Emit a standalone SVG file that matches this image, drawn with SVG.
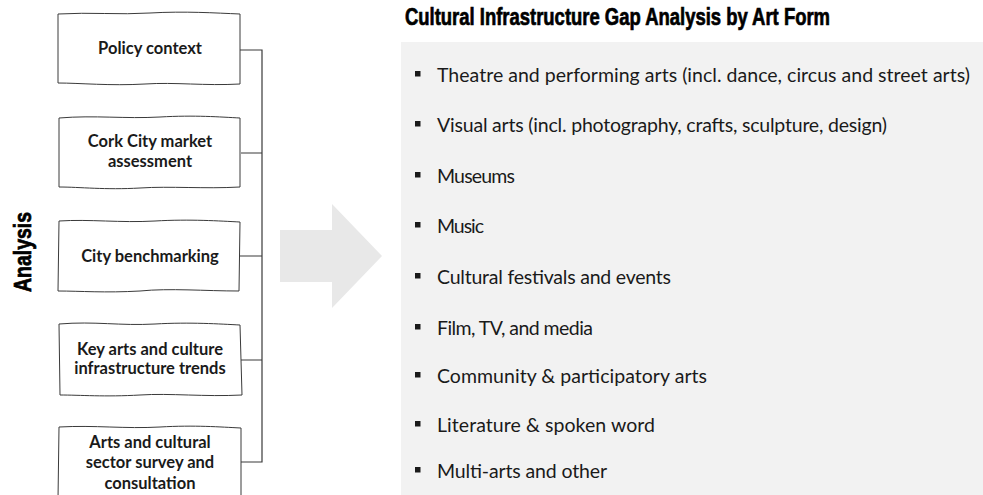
<svg xmlns="http://www.w3.org/2000/svg" width="983" height="495" viewBox="0 0 983 495">
<style>
.box{fill:#ffffff;stroke:#3a3a3a;stroke-width:1}
.bt{font-family:Lato,'Open Sans',sans-serif;font-weight:bold;font-size:16.5px;fill:#1a1a1a;text-anchor:middle}
.li{font-family:Lato,'Open Sans',sans-serif;font-size:19.5px;fill:#1a1a1a}
.bul{fill:#1a1a1a}
.hd{font-family:'Liberation Sans Narrow','Liberation Sans',sans-serif;font-weight:bold;fill:#000;stroke:#000;stroke-width:0.7}
.conn{fill:none;stroke:#3a3a3a;stroke-width:1.2}
</style>
<rect id="panel" x="401" y="42" width="582" height="453" fill="#f2f2f2"/>
<polygon id="arrow" points="280,230 332,230 332,204 382,256 332,308 332,282 280,282" fill="#e8e8e8"/>
<text class="hd" x="405" y="25" font-size="23.5" textLength="425" lengthAdjust="spacingAndGlyphs">Cultural Infrastructure Gap Analysis by Art Form</text>
<text class="hd" transform="translate(31,252) rotate(-90)" text-anchor="middle" font-size="23" textLength="80" lengthAdjust="spacingAndGlyphs">Analysis</text>
<g id="connectors">
<path class="conn" d="M240,50 H262 M241,153 H262 M240,256 H262 M241,360 H262 M241,462 H262 M262,49.4 V462.6"/>
</g>
<g id="n1">
<path class="box" d="M58,14 C90,12 120,15 150,13 C185,11 215,13 240,14 L240,84 C205,86 175,82 145,84 C110,86 80,83 58,83 Z"/>
<text class="bt" x="150" y="54">Policy context</text>
</g>
<g id="n2">
<path class="box" d="M59,118 C95,115 125,119 160,117 C195,115 220,117 240,118 L240,187 C205,189 170,186 140,188 C105,190 80,187 59,187 Z"/>
<text class="bt" x="150" y="147">Cork City market</text>
<text class="bt" x="150" y="167">assessment</text>
</g>
<g id="n3">
<path class="box" d="M59,221 C90,219 120,223 155,221 C190,219 220,221 240,222 L239,291 C205,291 170,288 140,291 C105,293 80,291 58,291 Z"/>
<text class="bt" x="150" y="262">City benchmarking</text>
</g>
<g id="n4">
<path class="box" d="M59,324 C95,321 120,326 155,324 C190,322 220,324 240,325 L242,395 C205,397 170,393 140,395 C105,397 80,395 60,395 Z"/>
<text class="bt" x="150" y="355">Key arts and culture</text>
<text class="bt" x="150" y="374">infrastructure trends</text>
</g>
<g id="n5">
<path class="box" d="M59,427 C95,425 125,429 160,427 C195,425 220,427 241,428 L241,500 L58,500 Z"/>
<text class="bt" x="150" y="448">Arts and cultural</text>
<text class="bt" x="150" y="468">sector survey and</text>
<text class="bt" x="150" y="489">consultation</text>
</g>
<g id="list">
<rect class="bul" x="415" y="71" width="5.5" height="5.5"/>
<text class="li" x="437" y="82" textLength="533">Theatre and performing arts (incl. dance, circus and street arts)</text>
<rect class="bul" x="415" y="121" width="5.5" height="5.5"/>
<text class="li" x="437" y="132" textLength="450">Visual arts (incl. photography, crafts, sculpture, design)</text>
<rect class="bul" x="415" y="172" width="5.5" height="5.5"/>
<text class="li" x="437" y="183" textLength="78">Museums</text>
<rect class="bul" x="415" y="222" width="5.5" height="5.5"/>
<text class="li" x="437" y="233" textLength="47">Music</text>
<rect class="bul" x="415" y="273" width="5.5" height="5.5"/>
<text class="li" x="437" y="284" textLength="234">Cultural festivals and events</text>
<rect class="bul" x="415" y="324" width="5.5" height="5.5"/>
<text class="li" x="437" y="335" textLength="156">Film, TV, and media</text>
<rect class="bul" x="415" y="372" width="5.5" height="5.5"/>
<text class="li" x="437" y="383" textLength="270">Community &amp; participatory arts</text>
<rect class="bul" x="415" y="421" width="5.5" height="5.5"/>
<text class="li" x="437" y="432" textLength="218">Literature &amp; spoken word</text>
<rect class="bul" x="415" y="467" width="5.5" height="5.5"/>
<text class="li" x="437" y="478" textLength="170">Multi-arts and other</text>
</g>
</svg>
